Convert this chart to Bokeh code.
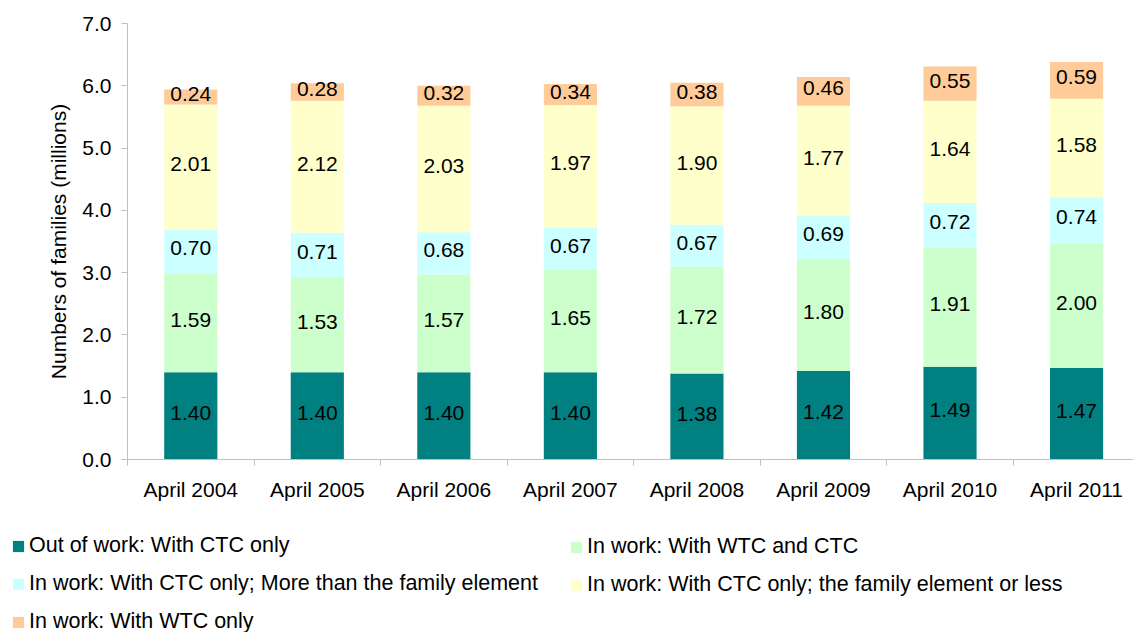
from bokeh.plotting import figure
from bokeh.layouts import column
from bokeh.models import (Range1d, FixedTicker, SingleIntervalTicker, Legend, LegendItem,
                          NumeralTickFormatter)
from bokeh.embed import file_html
from bokeh.resources import INLINE
from bokeh.core.properties import value

years = ["April 2004", "April 2005", "April 2006", "April 2007",
         "April 2008", "April 2009", "April 2010", "April 2011"]
out_ctc_only = [1.40, 1.40, 1.40, 1.40, 1.38, 1.42, 1.49, 1.47]
in_wtc_and_ctc = [1.59, 1.53, 1.57, 1.65, 1.72, 1.80, 1.91, 2.00]
in_ctc_more = [0.70, 0.71, 0.68, 0.67, 0.67, 0.69, 0.72, 0.74]
in_ctc_family = [2.01, 2.12, 2.03, 1.97, 1.90, 1.77, 1.64, 1.58]
in_wtc_only = [0.24, 0.28, 0.32, 0.34, 0.38, 0.46, 0.55, 0.59]

series = [out_ctc_only, in_wtc_and_ctc, in_ctc_more, in_ctc_family, in_wtc_only]
names = ["Out of work: With CTC only",
         "In work: With WTC and CTC",
         "In work: With CTC only; More than the family element",
         "In work: With CTC only; the family element or less",
         "In work: With WTC only"]
colors = ["#008080", "#CCFFCC", "#CCFFFF", "#FFFFCC", "#FFCC99"]

FONT = "Liberation Sans"
FS = "21px"
LFS = "21.5px"
GRAY = "#BFBFBF"
W = 1133

p = figure(width=W, height=520, output_backend="svg", toolbar_location=None,
           x_range=Range1d(-0.5, 7.45), y_range=Range1d(0, 7),
           min_border_left=127, min_border_right=0, min_border_top=23,
           min_border_bottom=61)
p.frame_align = False
p.outline_line_color = None
p.xgrid.visible = False
p.ygrid.visible = False

xs = list(range(len(years)))
bottoms = [0.0] * len(years)
for vals, col in zip(series, colors):
    tops = [b + v for b, v in zip(bottoms, vals)]
    p.vbar(x=xs, bottom=bottoms, top=tops, width=0.42, fill_color=col, line_color=None)
    mids = [(b + t) / 2 for b, t in zip(bottoms, tops)]
    p.text(x=xs, y=mids, text=["%.2f" % v for v in vals], text_align="center",
           text_baseline="middle", text_font=value(FONT), text_font_size=FS,
           text_color="#000000", y_offset=-3)
    bottoms = tops

# x axis
xa = p.xaxis[0]
xa.ticker = FixedTicker(ticks=xs, minor_ticks=[i - 0.5 for i in range(len(years) + 1)])
xa.major_label_overrides = {i: y for i, y in zip(xs, years)}
xa.major_tick_out = 0
xa.major_tick_in = 0
xa.minor_tick_out = 6
xa.minor_tick_in = 0
xa.minor_tick_line_color = GRAY
xa.axis_line_color = GRAY
xa.major_label_text_font = FONT
xa.major_label_text_font_size = FS
xa.major_label_text_color = "#000000"
xa.major_label_standoff = 12

# y axis
ya = p.yaxis[0]
ya.ticker = SingleIntervalTicker(interval=1, num_minor_ticks=0)
ya.formatter = NumeralTickFormatter(format="0.0")
ya.major_tick_out = 6
ya.major_tick_in = 0
ya.minor_tick_out = 0
ya.minor_tick_in = 0
ya.major_tick_line_color = GRAY
ya.axis_line_color = GRAY
ya.major_label_text_font = FONT
ya.major_label_text_font_size = FS
ya.major_label_text_color = "#000000"
ya.major_label_standoff = 10
ya.axis_label = "Numbers of families (millions)"
ya.axis_label_text_font = FONT
ya.axis_label_text_font_size = FS
ya.axis_label_text_font_style = "normal"
ya.axis_label_text_color = "#000000"
ya.axis_label_standoff = 9

# legend panel
LH = 112
q = figure(width=W, height=LH, output_backend="svg", toolbar_location=None,
           x_range=Range1d(0, 1), y_range=Range1d(0, 1),
           x_axis_location=None, y_axis_location=None,
           min_border_left=0, min_border_right=0, min_border_top=0, min_border_bottom=0)
q.frame_align = False
q.outline_line_color = None
q.xgrid.visible = False
q.ygrid.visible = False
# zero-size placeholder renderers, used only to carry the legend swatches
leg_r = [q.vbar(x=[0.5], bottom=[0], top=[0], width=0, fill_color=c, line_color=None)
         for c in colors]


def make_legend(idx, loc):
    leg = Legend(items=[LegendItem(label=names[i], renderers=[leg_r[i]]) for i in idx],
                 location=loc, orientation="vertical")
    leg.border_line_color = None
    leg.background_fill_alpha = 0
    leg.margin = 0
    leg.padding = 0
    leg.spacing = 13
    leg.glyph_width = 14
    leg.glyph_height = 14
    leg.label_standoff = 4
    leg.label_height = 21
    leg.label_text_font = FONT
    leg.label_text_font_size = LFS
    leg.label_text_color = "#000000"
    return leg

q.add_layout(make_legend([0, 2, 4], (11, -2)), "center")
q.add_layout(make_legend([1, 3], (569, 35)), "center")

layout = column(p, q, spacing=0)
open("out.html", "w").write(file_html(layout, INLINE))
